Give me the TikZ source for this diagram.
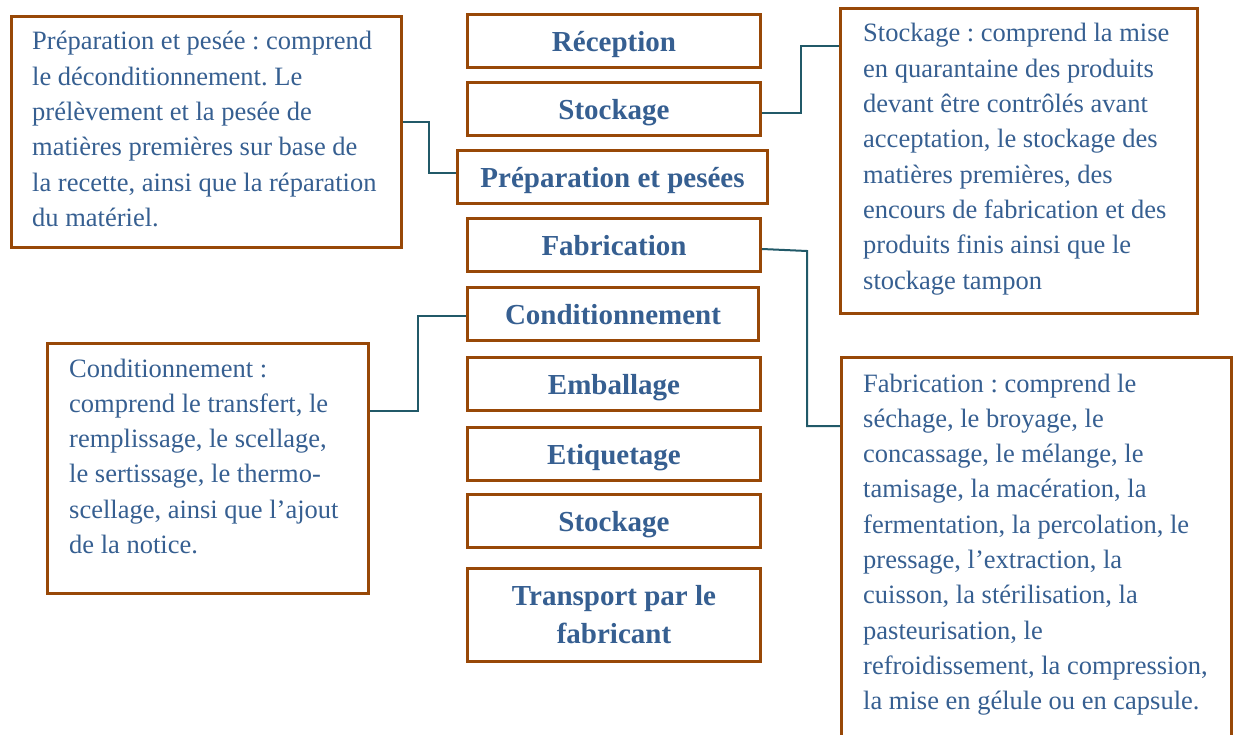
\documentclass[tikz,border=0pt]{standalone}
\usepackage{fontspec}
\setmainfont{Liberation Serif}
\frenchspacing
\definecolor{boxbrown}{HTML}{984807}
\definecolor{txtblue}{HTML}{365F91}
\definecolor{connteal}{HTML}{215968}
\begin{document}
\begin{tikzpicture}[x=1pt,y=-1pt,
  box/.style={draw=boxbrown, line width=3pt, inner sep=0pt, fill=white},
  stepbox/.style={box, minimum width=293pt, minimum height=53pt,
    font=\fontsize{29}{38}\selectfont\bfseries, text=txtblue, align=center},
  oneline/.style={text height=21pt, text depth=0pt},
  desc/.style={inner sep=0pt, anchor=base west, text=txtblue,
    font=\fontsize{26.5}{35.3}\selectfont},
  conn/.style={draw=connteal, line width=2pt}]
\useasboundingbox (0,0) rectangle (1236,735);
\clip (0,0) rectangle (1236,735);

% central steps
\node[stepbox, oneline] (rec) at (614,41.5) {Réception};
\node[stepbox, oneline] (stk) at (614,109) {Stockage};
\node[stepbox, oneline, minimum width=310pt] (prep) at (612.5,177) {Préparation et pesées};
\node[stepbox, oneline] (fab) at (614,245) {Fabrication};
\node[stepbox, oneline, minimum width=291pt] (cond) at (613,314) {Conditionnement};
\node[stepbox, oneline] (emb) at (614,384) {Emballage};
\node[stepbox, oneline] (eti) at (614,454) {Etiquetage};
\node[stepbox, oneline] (stk2) at (614,521) {Stockage};
\node[stepbox, minimum height=93pt] (trans) at (614,615) {Transport par le\\fabricant};

% description boxes
\node[box, minimum width=390pt, minimum height=231pt] (prepL) at (206.5,132) {};
\node[desc] (tprep) at (32,50) {\begin{minipage}[t]{400pt}\raggedright
Préparation et pesée : comprend\\
le déconditionnement. Le\\
prélèvement et la pesée de\\
matières premières sur base de\\
la recette, ainsi que la réparation\\
du matériel.\end{minipage}};

\node[box, minimum width=357pt, minimum height=305pt] (stkR) at (1019,161) {};
\node[desc] (tstk) at (863,42) {\begin{minipage}[t]{400pt}\raggedright
Stockage : comprend la mise\\
en quarantaine des produits\\
devant être contrôlés avant\\
acceptation, le stockage des\\
matières premières, des\\
encours de fabrication et des\\
produits finis ainsi que le\\
stockage tampon\end{minipage}};

\node[box, minimum width=321pt, minimum height=250pt] (condL) at (208,468.5) {};
\node[desc] (tcond) at (69,377) {\begin{minipage}[t]{400pt}\raggedright
Conditionnement :\\
comprend le transfert, le\\
remplissage, le scellage,\\
le sertissage, le thermo-\\
scellage, ainsi que l’ajout\\
de la notice.\end{minipage}};

\node[box, minimum width=390pt, minimum height=397pt] (fabR) at (1036.5,556) {};
\node[desc] (tfab) at (863,392) {\begin{minipage}[t]{400pt}\raggedright
Fabrication : comprend le\\
séchage, le broyage, le\\
concassage, le mélange, le\\
tamisage, la macération, la\\
fermentation, la percolation, le\\
pressage, l’extraction, la\\
cuisson, la stérilisation, la\\
pasteurisation, le\\
refroidissement, la compression,\\
la mise en gélule ou en capsule.\end{minipage}};

% connectors
\draw[conn] ([yshift=-4pt]stk.east) -- ++(39,0) |- ([yshift=-39pt]stkR.north west);
\draw[conn] ([yshift=-4pt]fab.east) -- ++(45,2) |- ([yshift=-70pt]fabR.north west);
\draw[conn] ([yshift=10pt]prepL.east) -- ++(26,0) |- ([yshift=4pt]prep.west);
\draw[conn] ([yshift=57.5pt]condL.east) -- ++(48,0) |- ([yshift=-2pt]cond.west);
\end{tikzpicture}
\end{document}
